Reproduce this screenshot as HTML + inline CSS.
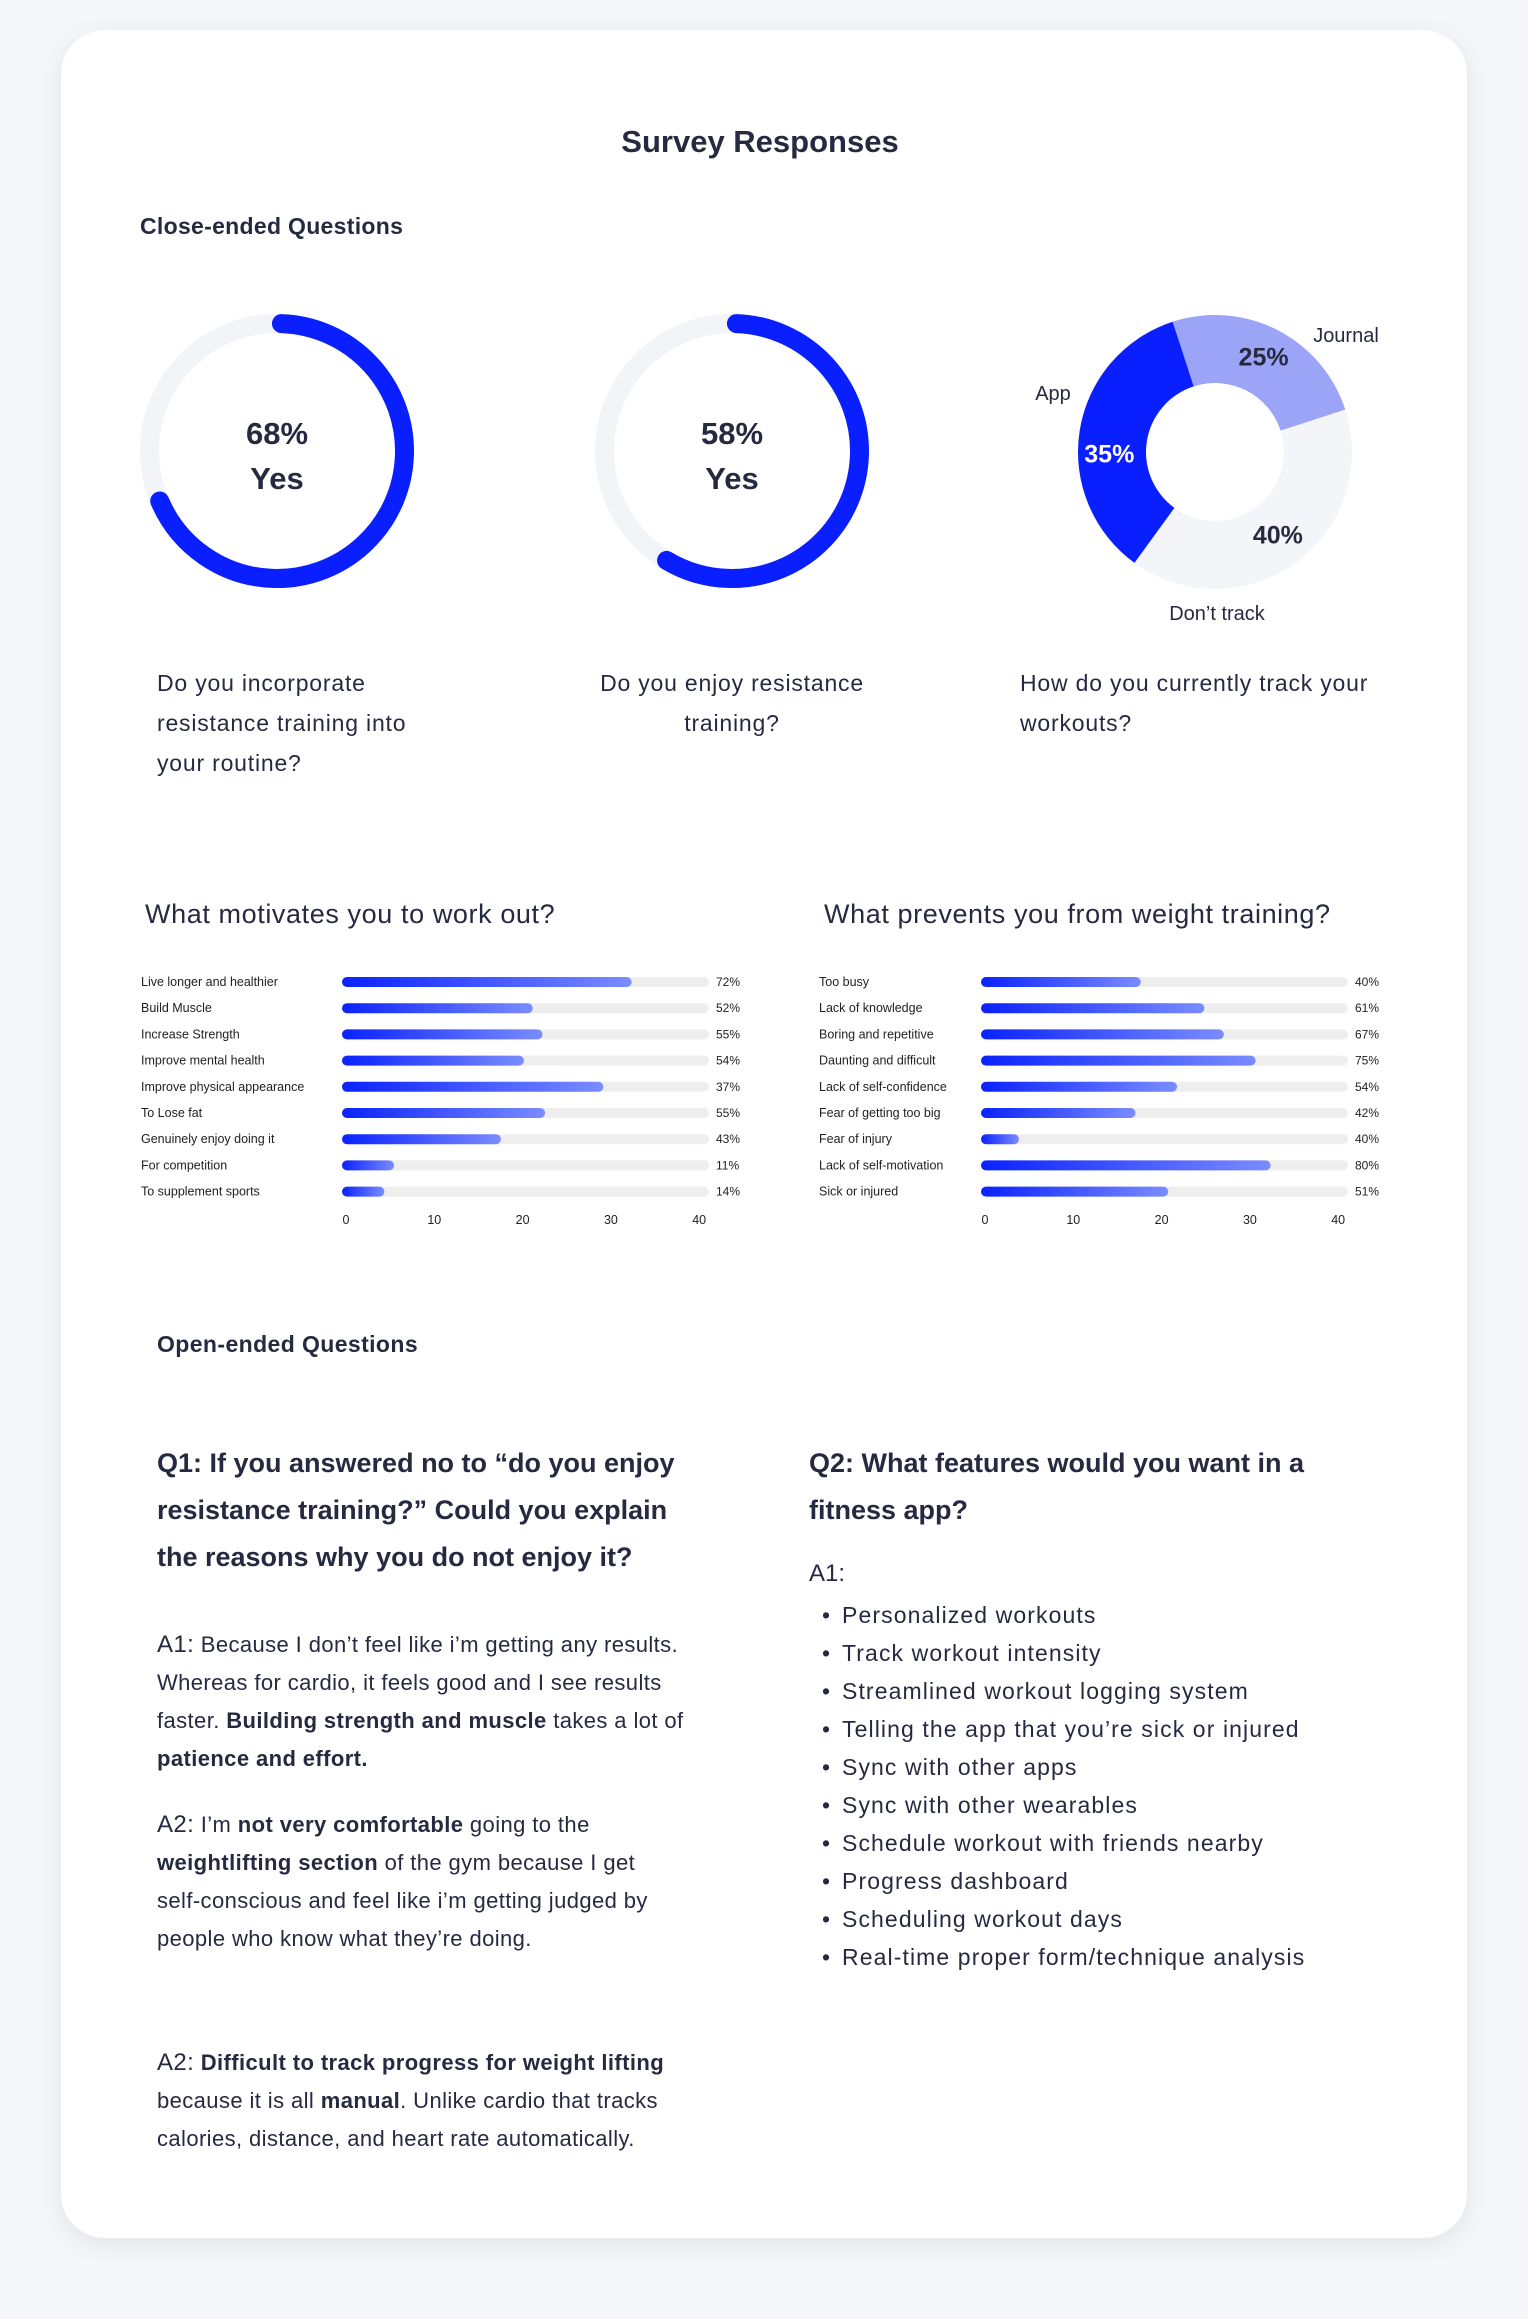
<!DOCTYPE html>
<html><head><meta charset="utf-8">
<style>
html,body{margin:0;padding:0;}
body{width:1528px;height:2319px;background:#f5f6fa;position:relative;font-family:"Liberation Sans",sans-serif;color:#262a40;overflow:hidden;}
.card{position:absolute;left:61px;top:30px;width:1406px;height:2208px;background:#fff;border-radius:44px;box-shadow:0 6px 24px rgba(0,0,0,0.08);}
.abs{position:absolute;white-space:nowrap;}
.q{font-size:23px;line-height:40px;color:#262a40;letter-spacing:0.8px;}
.p{font-size:22px;line-height:38px;color:#262a40;position:absolute;left:157px;white-space:nowrap;letter-spacing:0.4px;}
.p .lab{font-size:24px;}
.h{font-size:27px;font-weight:bold;line-height:47px;position:absolute;white-space:nowrap;}
ul{margin:0;padding:0;list-style:none;}
li{position:relative;padding-left:30px;}
li:before{content:"•";position:absolute;left:10px;}
svg text{font-family:"Liberation Sans",sans-serif;}
</style></head>
<body>
<div class="card"></div>
<div class="abs" style="left:0;width:1520px;text-align:center;top:124px;font-size:31px;font-weight:bold;">Survey Responses</div>
<div class="abs" style="left:140px;top:213px;font-size:23px;font-weight:bold;letter-spacing:0.3px;">Close-ended Questions</div>

<svg id="donuts" width="1528" height="700" style="position:absolute;left:0;top:0"></svg>

<div class="abs q" style="left:157px;top:663px;">Do you incorporate<br>resistance training into<br>your routine?</div>
<div class="abs q" style="left:532px;width:400px;text-align:center;top:663px;">Do you enjoy resistance<br>training?</div>
<div class="abs q" style="left:1020px;top:663px;">How do you currently track your<br>workouts?</div>

<div class="abs" style="left:145px;top:899px;font-size:27px;letter-spacing:0.6px;">What motivates you to work out?</div>
<div class="abs" style="left:824px;top:899px;font-size:27px;letter-spacing:0.6px;">What prevents you from weight training?</div>
<svg id="bars" width="1528" height="300" style="position:absolute;left:0;top:950px"></svg>

<div class="abs" style="left:157px;top:1331px;font-size:23px;font-weight:bold;letter-spacing:0.4px;">Open-ended Questions</div>
<div class="h" style="left:157px;top:1440px;">Q1: If you answered no to “do you enjoy<br>resistance training?” Could you explain<br>the reasons why you do not enjoy it?</div>
<div class="h" style="left:809px;top:1440px;">Q2: What features would you want in a<br>fitness app?</div>

<div class="p" style="top:1626px;"><span class="lab">A1:</span> Because I don’t feel like i’m getting any results.<br>Whereas for cardio, it feels good and I see results<br>faster. <b>Building strength and muscle</b> takes a lot of<br><b>patience and effort.</b></div>
<div class="p" style="top:1806px;"><span class="lab">A2:</span> I’m <b>not very comfortable</b> going to the<br><b>weightlifting section</b> of the gym because I get<br>self-conscious and feel like i’m getting judged by<br>people who know what they’re doing.</div>
<div class="p" style="top:2044px;"><span class="lab">A2:</span> <b>Difficult to track progress for weight lifting</b><br>because it is all <b>manual</b>. Unlike cardio that tracks<br>calories, distance, and heart rate automatically.</div>

<div class="abs" style="left:809px;top:1560px;font-size:24px;">A1:</div>
<ul class="abs" style="left:812px;top:1596px;font-size:23px;line-height:38px;letter-spacing:1.1px;">
<li>Personalized workouts</li>
<li>Track workout intensity</li>
<li>Streamlined workout logging system</li>
<li>Telling the app that you’re sick or injured</li>
<li>Sync with other apps</li>
<li>Sync with other wearables</li>
<li>Schedule workout with friends nearby</li>
<li>Progress dashboard</li>
<li>Scheduling workout days</li>
<li>Real-time proper form/technique analysis</li>
</ul>

<script>
const yesPercents = [68, 58];
const trackLabels = ["Journal", "Don’t track", "App"];
const trackValues = [25, 40, 35];
const motiveCats = ["Live longer and healthier","Build Muscle","Increase Strength","Improve mental health","Improve physical appearance","To Lose fat","Genuinely enjoy doing it","For competition","To supplement sports"];
const motiveValues = [32.8, 21.6, 22.7, 20.6, 29.6, 23.0, 18.0, 5.9, 4.8];
const motivePct = ["72%","52%","55%","54%","37%","55%","43%","11%","14%"];
const barrierCats = ["Too busy","Lack of knowledge","Boring and repetitive","Daunting and difficult","Lack of self-confidence","Fear of getting too big","Fear of injury","Lack of self-motivation","Sick or injured"];
const barrierValues = [18.1, 25.3, 27.5, 31.1, 22.2, 17.5, 4.3, 32.8, 21.2];
const barrierPct = ["40%","61%","67%","75%","54%","42%","40%","80%","51%"];
const ticks = [0, 10, 20, 30, 40];

const NS = "http://www.w3.org/2000/svg";
function mk(parent, tag, attrs, text){
  const e = document.createElementNS(NS, tag);
  for (const k in attrs) e.setAttribute(k, attrs[k]);
  if (text !== undefined) e.textContent = text;
  parent.appendChild(e);
  return e;
}
function pt(cx, cy, r, deg){ const a = (deg-90)*Math.PI/180; return [cx + r*Math.cos(a), cy + r*Math.sin(a)]; }

const dsvg = document.getElementById('donuts');
const ringCx = [277, 732];
yesPercents.forEach((v, i) => {
  const cx = ringCx[i], cy = 451, r = 127.5;
  const track = mk(dsvg, 'circle', {cx, cy, r, fill:'none', stroke:'#f3f4f8', 'stroke-width':19});
  
  
  const C = 2*Math.PI*r;
  const arc = mk(dsvg, 'circle', {cx, cy, r, fill:'none', stroke:'#0a1fff', 'stroke-width':19, 'stroke-linecap':'round',
    'stroke-dasharray': (C*v/100) + ' ' + C, transform:`rotate(-88 ${cx} ${cy})`});
  
  
  const t1 = mk(dsvg, 'text', {x:cx, y:444, 'text-anchor':'middle', 'font-size':31, 'font-weight':'bold', fill:'#262a40'}, v + '%');
  
  
  const t2 = mk(dsvg, 'text', {x:cx, y:489, 'text-anchor':'middle', 'font-size':31, 'font-weight':'bold', fill:'#262a40'}, 'Yes');
  
  
});
const dcx = 1215, dcy = 452, ro = 137, ri = 69;
const segColors = ['#9ba4f7', '#f4f5f9', '#0a1fff'];
const pctColors = ['#262a40', '#262a40', '#ffffff'];
const pctDy = [0, -4, 18];
const labelPos = [[1346,342,'middle'],[1217,620,'middle'],[1053,400,'middle']];
let start = -18;
trackValues.forEach((v, i) => {
  const sweep = v/100*360, end = start + sweep, large = sweep > 180 ? 1 : 0;
  const [x1,y1] = pt(dcx,dcy,ro,start), [x2,y2] = pt(dcx,dcy,ro,end);
  const [x3,y3] = pt(dcx,dcy,ri,end), [x4,y4] = pt(dcx,dcy,ri,start);
  const seg = mk(dsvg, 'path', {d:`M${x1},${y1} A${ro},${ro} 0 ${large} 1 ${x2},${y2} L${x3},${y3} A${ri},${ri} 0 ${large} 0 ${x4},${y4} Z`, fill:segColors[i]});
  
  
  const mid = start + sweep/2;
  const [lx,ly] = pt(dcx,dcy,(ro+ri)/2+4,mid);
  const pl = mk(dsvg, 'text', {x:lx, y:ly+9+pctDy[i], 'text-anchor':'middle', 'font-size':25, 'font-weight':'bold', fill:pctColors[i]}, v + '%');
  
  
  const lp = labelPos[i];
  const nl = mk(dsvg, 'text', {x:lp[0], y:lp[1], 'text-anchor':lp[2], 'font-size':20, fill:'#262a40'}, trackLabels[i]);
  
  
  start = end;
});

const bsvg = document.getElementById('bars');
const defs = mk(bsvg, 'defs', {});
const g = mk(defs, 'linearGradient', {id:'bg', x1:0, x2:1, y1:0, y2:0});
mk(g, 'stop', {offset:'0', 'stop-color':'#0a22ff'});
mk(g, 'stop', {offset:'1', 'stop-color':'#7a8cff'});
function barChart(cats, vals, pcts, labelX, x0, unit, trackEnd, pctX, name){
  const y0 = 32, step = 26.2;
  const sx = v => x0 + v*unit;
  cats.forEach((c, i) => {
    const y = y0 + i*step;
    const lab = mk(bsvg, 'text', {x:labelX, y:y+4, 'font-size':12.5, fill:'#222'}, c);
    
    
    const tr = mk(bsvg, 'rect', {x:x0, y:y-5, width:trackEnd-x0, height:10, rx:5, fill:'#eeeeef'});
    
    
    const b = mk(bsvg, 'rect', {x:x0, y:y-5, width:sx(vals[i])-x0, height:10, rx:5, fill:'url(#bg)'});
    
    
    const pv = mk(bsvg, 'text', {x:pctX, y:y+4, 'font-size':12, fill:'#222'}, pcts[i]);
    
    
  });
  ticks.forEach(t => {
    const tk = mk(bsvg, 'text', {x:sx(t)+4, y:274, 'text-anchor':'middle', 'font-size':12.5, fill:'#222'}, String(t));
    
    
  });
}
barChart(motiveCats, motiveValues, motivePct, 141, 342, 8.83, 709, 716, 'motivation');
barChart(barrierCats, barrierValues, barrierPct, 819, 981, 8.83, 1348, 1355, 'barrier');
</script>
</body></html>
